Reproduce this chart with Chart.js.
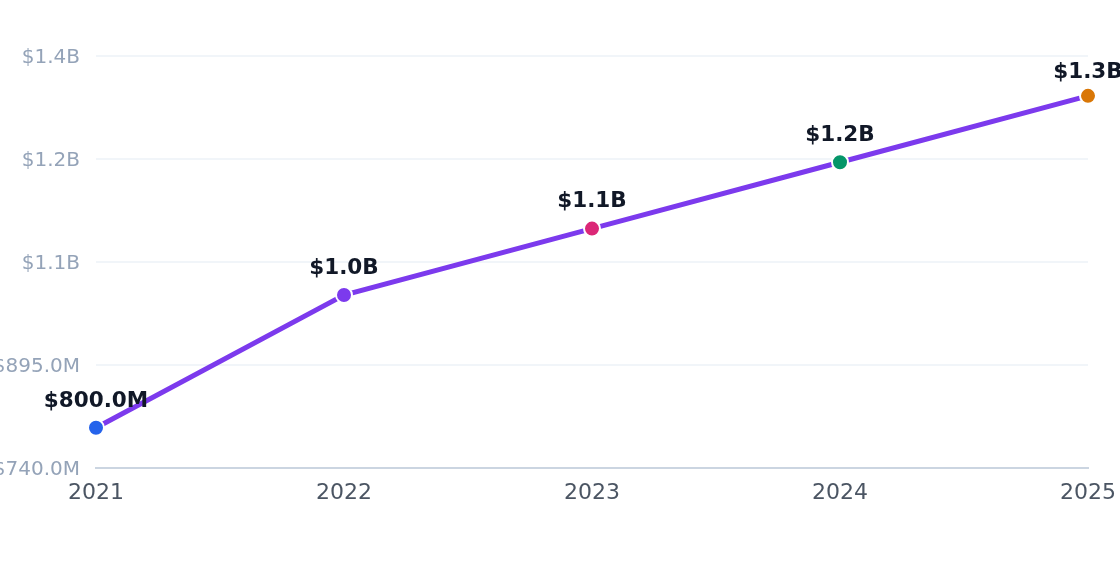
<!DOCTYPE html>
<html>
<head>
<meta charset="utf-8">
<script src="https://cdn.jsdelivr.net/npm/chart.js@4"></script>
<style>
  html, body { margin: 0; padding: 0; background: #ffffff; }
  #wrap { width: 1120px; height: 572px; }
</style>
</head>
<body>
<div id="wrap"><canvas id="chart"></canvas></div>
<script>
// データ
const years = ['2021', '2022', '2023', '2024', '2025'];
const revenue = [800000000, 1000000000, 1100000000, 1200000000, 1300000000];
const pointColors = ['#2563eb', '#7c3aed', '#db2777', '#059669', '#d97706'];
const yMin = 740000000;
const yMax = 1360000000;
const yStep = 155000000;

// 金額の表示形式
function money(v) {
    if (v >= 1e9) return '$' + (v / 1e9).toFixed(1) + 'B';
    return '$' + (v / 1e6).toFixed(1) + 'M';
}

// 点の上にラベルを描く（上端ははみ出さないように）
const valueLabels = {
    id: 'valueLabels',
    afterDatasetsDraw(chart) {
        const ctx = chart.ctx;
        const meta = chart.getDatasetMeta(0);
        const minBottom = chart.chartArea.top + 27.5;
        ctx.save();
        ctx.font = 'bold 21.5px "DejaVu Sans"';
        ctx.fillStyle = '#111827';
        ctx.textAlign = 'center';
        ctx.textBaseline = 'bottom';
        meta.data.forEach((pt, i) => {
            const y = Math.max(pt.y - 16, minBottom);
            ctx.fillText(money(revenue[i]), pt.x, y);
        });
        ctx.restore();
    }
};

new Chart(document.getElementById('chart'), {
    type: 'line',
    data: {
        labels: years,
        datasets: [{
            data: revenue,
            borderColor: '#7c3aed',
            borderWidth: 5,
            tension: 0,
            pointRadius: 8,
            pointHoverRadius: 8,
            pointBackgroundColor: pointColors,
            pointBorderColor: '#ffffff',
            pointBorderWidth: 2
        }]
    },
    options: {
        responsive: true,
        maintainAspectRatio: false,
        animation: false,
        layout: { padding: { top: 56, right: 32, bottom: 54, left: 0 } },
        plugins: {
            legend: { display: false },
            tooltip: { enabled: false }
        },
        scales: {
            x: {
                offset: false,
                afterFit(scale) { scale.paddingRight = 0; scale.paddingLeft = 0; },
                grid: { display: false, drawTicks: false },
                border: { display: true, color: '#cbd5e1', width: 2 },
                ticks: {
                    color: '#4b5563',
                    font: { family: 'DejaVu Sans', size: 22 },
                    padding: 12,
                    maxRotation: 0
                }
            },
            y: {
                min: yMin,
                max: yMax,
                afterFit(scale) { scale.width = 96; },
                grid: { color: '#f1f5f9', lineWidth: 2, drawTicks: false },
                border: { display: false },
                ticks: {
                    stepSize: yStep,
                    color: '#94a3b8',
                    font: { family: 'DejaVu Sans', size: 20 },
                    padding: 16,
                    labelOffset: 2,
                    callback: v => money(v)
                }
            }
        }
    },
    plugins: [valueLabels]
});
</script>
</body>
</html>
